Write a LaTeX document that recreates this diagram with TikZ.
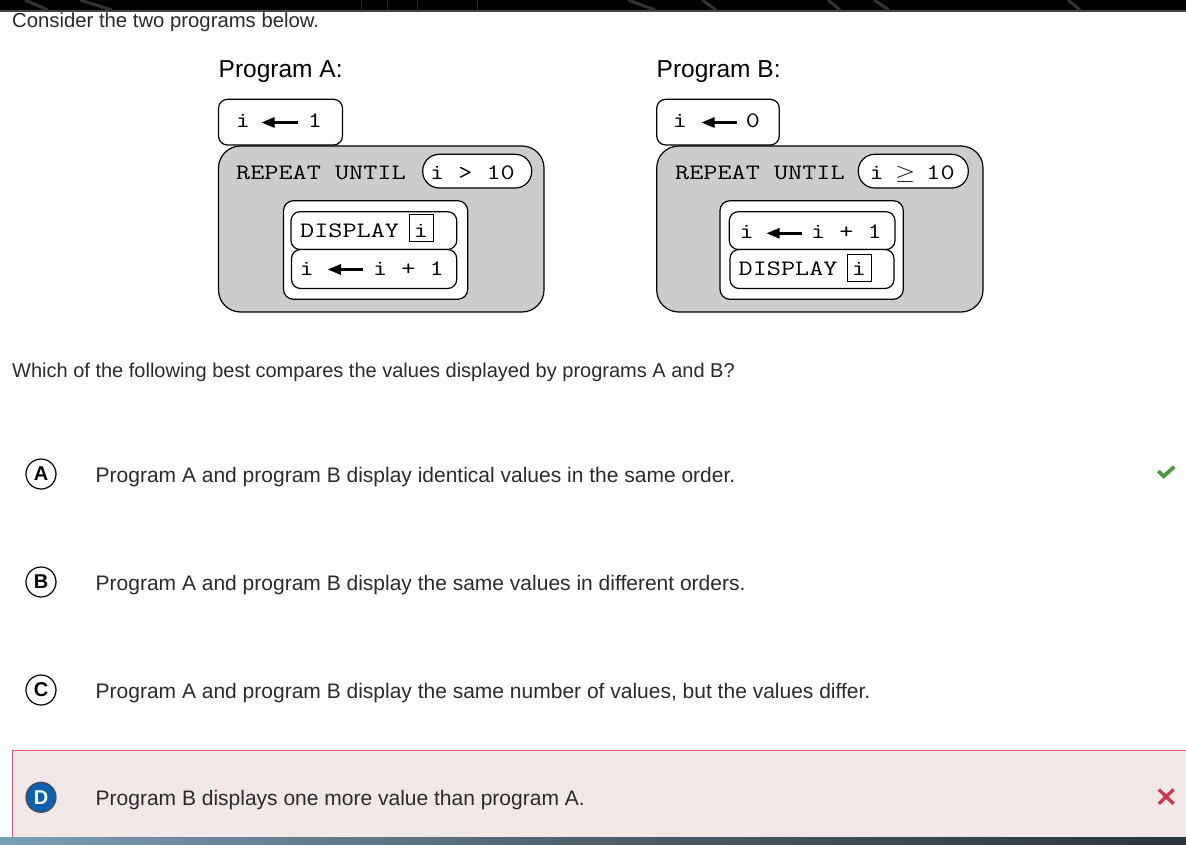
\documentclass[tikz,border=0pt]{standalone}
\usepackage{graphicx}
\usepackage{fontspec}
\setmainfont{Liberation Sans}
\newfontfamily\monof{Latin Modern Mono}
\definecolor{boxgray}{HTML}{CCCCCC}
\definecolor{optgray}{HTML}{2B2B2B}
\definecolor{pinkbg}{HTML}{F3E8E8}
\definecolor{pinkbd}{HTML}{E8576A}
\definecolor{dblue}{HTML}{0D5FB0}
\definecolor{okgreen}{HTML}{4C9A3C}
\definecolor{xred}{HTML}{D0354F}
\definecolor{bandL}{HTML}{7A9FB6}
\definecolor{bandM}{HTML}{4E5E6A}
\definecolor{bandR}{HTML}{2A3440}
\newcommand\mt[1]{\scalebox{1.2468}[1]{#1}}
\newcommand\mgeq{\makebox[0.525em][c]{$\geq$}}
\tikzset{
  codebox/.style={draw=black, line width=1.2pt, fill=white, rounded corners=9pt},
  loopbox/.style={draw=black, line width=1.2pt, fill=boxgray, rounded corners=22pt},
  pill/.style={draw=black, line width=1.2pt, fill=white, rounded corners=16.5pt},
  ibox/.style={draw=black, line width=1pt, fill=white},
  mono/.style={inner sep=0pt, font=\monof\fontsize{22}{22}\selectfont, anchor=base west},
  monoc/.style={mono, anchor=base},
  opt/.style={inner sep=0pt, anchor=base west, text=optgray, font=\fontsize{21}{21}\selectfont},
  qtext/.style={inner sep=0pt, anchor=base west, text=optgray, font=\fontsize{20}{20}\selectfont},
  ptitle/.style={inner sep=0pt, anchor=base west, text=black, font=\fontsize{24.5}{24.5}\selectfont},
  letter/.style={circle, draw=black, line width=1.2pt, minimum size=30pt, inner sep=0pt, font=\bfseries\fontsize{20}{20}\selectfont},
}
\newcommand\larr[3]{%
  \fill (#1,#3) -- (#1+13,#3-5.5) -- (#1+13,#3+5.5) -- cycle;
  \fill (#1+12,#3-1.7) rectangle (#2,#3+1.7);}
\begin{document}
\begin{tikzpicture}[x=1pt,y=-1pt]
\useasboundingbox (0,0) rectangle (1186,845);
\fill[white] (0,0) rectangle (1186,845);
% top band
\fill[black] (0,0) rectangle (1186,10);
\fill[black!72] (0,10) rectangle (1186,12);
\begin{scope}[black!80, line width=3pt]
  \draw (25,0) -- (48,10); \draw (80,0) -- (112,10);
  \draw (628,0) -- (655,10); \draw (702,0) -- (716,10);
  \draw (828,0) -- (840,10); \draw (874,0) -- (889,10);
  \draw (1068,0) -- (1080,10);
\end{scope}
\begin{scope}[black!85, line width=1pt]
  \draw (361,0) -- (361,10); \draw (387,0) -- (387,10);
  \draw (417,0) -- (417,10); \draw (477,0) -- (477,10);
\end{scope}

\node[qtext, font=\fontsize{20.3}{20.3}\selectfont] (intro) at (12,28) {Consider the two programs below.};

% ---------- Program A ----------
\node[ptitle] (titleA) at (218.5,78) {Program A:};
\draw[loopbox] (218.5,146) rectangle (544,312);
\draw[codebox] (218.5,99.3) rectangle (342.5,145);
\node[monoc] (a1i) at (243,128) {\mt{i}};
\larr{261.7}{298}{122.5}
\node[monoc] (a1v) at (315,128) {\mt{1}};
\node[mono] (arep) at (236,180) {\mt{REPEAT UNTIL}};
\draw[pill] (422.7,154.3) rectangle (531.7,188);
\node[mono] (acond) at (429.8,180) {\mt{i > 10}};
\draw[codebox, rounded corners=10pt] (283.5,200.7) rectangle (467.7,299.3);
\draw[codebox] (291,211.7) rectangle (456.7,249.5);
\draw[codebox] (291.5,249.5) rectangle (456.7,288.5);
\node[mono] (adisp) at (300,238) {\mt{DISPLAY}};
\draw[ibox] (409,215) rectangle (433,242);
\node[monoc] (adi) at (421,238) {\mt{i}};
\node[monoc] (a2i) at (306.7,275.5) {\mt{i}};
\larr{328}{363}{269.5}
\node[mono] (a2e) at (372.8,275.5) {\mt{i + 1}};

% ---------- Program B ----------
\node[ptitle] (titleB) at (656.5,78) {Program B:};
\draw[loopbox] (656.7,146) rectangle (983,312);
\draw[codebox] (656.7,99.3) rectangle (779.3,145);
\node[monoc] (b1i) at (680,128) {\mt{i}};
\larr{701.7}{736.7}{122.5}
\node[monoc] (b1v) at (753,128) {\mt{0}};
\node[mono] (brep) at (675,180) {\mt{REPEAT UNTIL}};
\draw[pill] (858.3,154.3) rectangle (968.3,188);
\node[mono] (bcond) at (869.5,180) {\mt{i \mgeq{} 10}};
\draw[codebox, rounded corners=10pt] (720,200.7) rectangle (903.3,299.3);
\draw[codebox] (729.3,211.7) rectangle (895,249.5);
\draw[codebox] (730,249.5) rectangle (894,288.5);
\node[monoc] (b2i) at (746.7,239) {\mt{i}};
\larr{766.7}{801.7}{233.3}
\node[mono] (b2e) at (810.8,239) {\mt{i + 1}};
\node[mono] (bdisp) at (738.5,275.5) {\mt{DISPLAY}};
\draw[ibox] (847,254) rectangle (871,281);
\node[monoc] (bdi) at (859,275.5) {\mt{i}};

% ---------- question ----------
\node[qtext] (quest) at (12,377) {Which of the following best compares the values displayed by programs A and B?};

% ---------- options ----------
\node[letter] (cA) at (41,474) {A};
\node[opt] (tA) at (95.5,482) {Program A and program B display identical values in the same order.};
\draw[okgreen, line width=3.8pt] (1158.3,471) -- (1163.5,476.3) -- (1174.3,466.8);

\node[letter] (cB) at (41,582) {B};
\node[opt] (tB) at (95.5,590) {Program A and program B display the same values in different orders.};

\node[letter] (cC) at (41,690) {C};
\node[opt] (tC) at (95.5,698) {Program A and program B display the same number of values, but the values differ.};

\filldraw[fill=pinkbg, draw=pinkbd, line width=1.2pt] (12.5,750.5) rectangle (1200,860);
\node[letter, fill=dblue, draw=black!70, text=white] (cD) at (41,797.3) {D};
\node[opt] (tD) at (95.5,805.5) {Program B displays one more value than program A.};
\draw[xred, line width=3.3pt] (1158.8,789.5) -- (1173.5,803.8) (1158.8,803.8) -- (1173.5,789.5);

% bottom band
\shade[left color=bandL, right color=bandR, middle color=bandM] (0,837.5) rectangle (1186,845);
\end{tikzpicture}
\end{document}
